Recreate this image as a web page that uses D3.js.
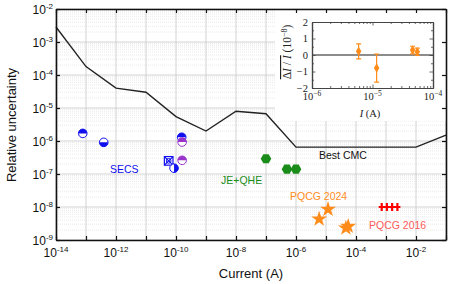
<!DOCTYPE html>
<html>
<head>
<meta charset="utf-8">
<script src="https://cdn.jsdelivr.net/npm/d3@7"></script>
<style>
body { margin: 0; background: #fff; }
svg { display: block; font-family: "Liberation Sans", Arial, sans-serif; }
</style>
</head>
<body>
<svg id="mainsvg" width="463" height="284"></svg>
<script>
// Best CMC line
const cmcCurrent = [1e-14, 1e-13, 1e-12, 1e-11, 1e-10, 1e-9, 1e-8, 1e-7, 1e-6, 1e-2, 1e-1];
const cmcUnc = [2.85e-3, 1.8e-4, 4e-5, 3e-5, 5.5e-6, 2e-6, 8e-6, 6.7e-6, 6.5e-7, 6.5e-7, 1.5e-6];
// SECS
const secsCurrent = [7.8e-14, 3.9e-13, 1.55e-10, 1.6e-10, 5.7e-11, 8.6e-11, 1.6e-10];
const secsUnc = [1.7e-6, 9.1e-7, 1.3e-6, 9.3e-7, 2.5e-7, 1.5e-7, 2.6e-7];
const secsColor = ["#1010ee", "#1010ee", "#1010ee", "#9933cc", "#1010ee", "#1010ee", "#9933cc"];
const secsKind = ["top", "bottom", "top", "top", "cross", "right", "top"];
// JE+QHE
const jeCurrent = [1e-7, 5e-7, 1e-6];
const jeUnc = [2.9e-7, 1.4e-7, 1.4e-7];
// PQCG 2024
const pq24Current = [5.9e-6, 1.17e-5, 4.6e-5, 5.5e-5];
const pq24Unc = [4.3e-9, 8.5e-9, 2.3e-9, 2.6e-9];
const pq24Dev = [0.22, -0.79, 0.3, 0.2];   // inset, 1e-8
const pq24Err = [0.45, 0.85, 0.23, 0.22];
// PQCG 2016
const pq16Current = [7.2e-4, 1.07e-3, 1.6e-3, 2.4e-3];
const pq16Unc = [1e-8, 1e-8, 1e-8, 1e-8];

const xDecades = d3.range(-14, 0).map(e => Math.pow(10, e));
const xLabelExp = [-14, -12, -10, -8, -6, -4, -2];
const yLabelExp = [-9, -8, -7, -6, -5, -4, -3, -2];
const insetYTicks = [-2, -1, 0, 1, 2];
const insetXExp = [-6, -5, -4];

const svg = d3.select('#mainsvg');
const margin = { top: 9, right: 17, bottom: 44, left: 56 };
const width = +svg.attr("width"), height = +svg.attr("height");
const innerWidth = width - margin.left - margin.right;
const innerHeight = height - margin.top - margin.bottom;

const x = d3.scaleLog().domain([1e-14, 1e-1]).range([0, innerWidth]);
const y = d3.scaleLog().domain([1e-9, 1e-2]).range([innerHeight, 0]);

const g = svg.append("g").attr("transform", `translate(${margin.left},${margin.top})`);

// grid: minor horizontal dotted, major solid
const minorY = [];
for (let e = -9; e < -2; e++) for (let k = 2; k < 10; k++) minorY.push(k * Math.pow(10, e));
g.append("g").selectAll("line").data(minorY).join("line")
  .attr("x1", 0).attr("x2", innerWidth)
  .attr("y1", d => y(d)).attr("y2", d => y(d))
  .attr("stroke", "#dcdcdc").attr("stroke-width", 0.6).attr("stroke-dasharray", "1,1");
g.append("g").selectAll("line").data(yLabelExp.map(e => Math.pow(10, e))).join("line")
  .attr("x1", 0).attr("x2", innerWidth)
  .attr("y1", d => y(d)).attr("y2", d => y(d))
  .attr("stroke", "#c8c8c8").attr("stroke-width", 0.8);
g.append("g").selectAll("line").data(xDecades).join("line")
  .attr("y1", 0).attr("y2", innerHeight)
  .attr("x1", d => x(d)).attr("x2", d => x(d))
  .attr("stroke", "#c8c8c8").attr("stroke-width", 0.8);

// white box behind the inset
g.append("rect").attr("x", 275 - margin.left).attr("y", 0)
  .attr("width", innerWidth - (275 - margin.left)).attr("height", 121 - margin.top)
  .attr("fill", "#fff");

// Best CMC
const line = d3.line().x(d => x(d[0])).y(d => y(d[1]));
g.append("path").datum(cmcCurrent.map((c, i) => [c, cmcUnc[i]]))
  .attr("d", line).attr("fill", "none").attr("stroke", "#222").attr("stroke-width", 1.4);

// axes
g.append("g").attr("transform", `translate(0,${innerHeight})`)
  .call(d3.axisBottom(x).tickValues(xDecades).tickSize(-4).tickSizeOuter(0).tickFormat(""));
g.append("g").call(d3.axisTop(x).tickValues(xDecades).tickSize(-4).tickSizeOuter(0).tickFormat(""));
g.append("g").call(d3.axisLeft(y).tickValues(yLabelExp.map(e => Math.pow(10, e))).tickSize(-4).tickSizeOuter(0).tickFormat(""));
g.append("g").attr("transform", `translate(${innerWidth},0)`)
  .call(d3.axisRight(y).tickValues(yLabelExp.map(e => Math.pow(10, e))).tickSize(-4).tickSizeOuter(0).tickFormat(""));
g.selectAll(".domain").attr("stroke", "#111").attr("stroke-width", 1.6);
g.selectAll(".tick line").attr("stroke", "#111").attr("stroke-width", 1.2);

// tick labels
xLabelExp.forEach(e => {
  const t = g.append("text").attr("x", x(Math.pow(10, e))).attr("y", innerHeight + 17)
    .attr("text-anchor", "middle").attr("font-size", 12).attr("fill", "#111");
  t.append("tspan").text("10");
  t.append("tspan").attr("dy", -5).attr("font-size", 8).text(e);
});
yLabelExp.forEach(e => {
  const t = g.append("text").attr("x", -3).attr("y", y(Math.pow(10, e)) + 5)
    .attr("text-anchor", "end").attr("font-size", 12).attr("fill", "#111");
  t.append("tspan").text("10");
  t.append("tspan").attr("dy", -5).attr("font-size", 8).text(e);
});

svg.append("text").attr("transform", "translate(16,125) rotate(-90)")
  .attr("text-anchor", "middle").attr("font-size", 13).attr("fill", "#111").text("Relative uncertainty");
svg.append("text").attr("x", 251).attr("y", 278)
  .attr("text-anchor", "middle").attr("font-size", 13).attr("fill", "#111").text("Current (A)");

// SECS markers
const r = 4.3;
const halfPath = {
  top: `M${-r},0A${r},${r} 0 0 1 ${r},0Z`,
  bottom: `M${-r},0A${r},${r} 0 0 0 ${r},0Z`,
  right: `M0,${-r}A${r},${r} 0 0 1 0,${r}Z`,
  left: `M0,${-r}A${r},${r} 0 0 0 0,${r}Z`
};
secsCurrent.forEach((c, i) => {
  const m = g.append("g").attr("transform", `translate(${x(c)},${y(secsUnc[i])})`);
  const col = secsColor[i];
  if (secsKind[i] === "cross") {
    m.append("rect").attr("x", -r).attr("y", -r).attr("width", 2 * r).attr("height", 2 * r)
      .attr("fill", "#fff").attr("stroke", col).attr("stroke-width", 1.2);
    m.append("path").attr("d", `M${-r},${-r}L${r},${r}M${r},${-r}L${-r},${r}`)
      .attr("stroke", col).attr("stroke-width", 1.2);
    m.append("circle").attr("r", r * 0.55).attr("fill", "none").attr("stroke", col).attr("stroke-width", 1);
  } else {
    m.append("circle").attr("r", r).attr("fill", "#fff").attr("stroke", col).attr("stroke-width", 1);
    m.append("path").attr("d", halfPath[secsKind[i]]).attr("fill", col);
  }
});

// JE+QHE hexagons
const hex = d3.range(6).map(k => {
  const a = Math.PI / 6 + k * Math.PI / 3;
  return [5.3 * Math.cos(a), 5.3 * Math.sin(a)];
});
g.selectAll(".hex").data(jeCurrent).join("path")
  .attr("d", "M" + hex.join("L") + "Z")
  .attr("transform", (d, i) => `translate(${x(d)},${y(jeUnc[i])}) rotate(30)`)
  .attr("fill", "#1a8c1a");

// PQCG 2024 stars
const star = d3.symbol(d3.symbolStar, 78)();
g.selectAll(".star").data(pq24Current).join("path")
  .attr("d", star)
  .attr("transform", (d, i) => `translate(${x(d)},${y(pq24Unc[i])})`)
  .attr("fill", "#ff8c1a");

// PQCG 2016 pluses
g.selectAll(".plus").data(pq16Current).join("path")
  .attr("d", "M-3,0H3M0,-4V4")
  .attr("transform", (d, i) => `translate(${x(d)},${y(pq16Unc[i])})`)
  .attr("stroke", "#ff0000").attr("stroke-width", 2.2);

// group labels
const labFont = 10.5;
svg.append("text").attr("x", 110).attr("y", 173).attr("font-size", labFont).attr("fill", "#1010ee").text("SECS");
svg.append("text").attr("x", 221).attr("y", 184).attr("font-size", labFont).attr("fill", "#1a8c1a").text("JE+QHE");
svg.append("text").attr("x", 319).attr("y", 159).attr("font-size", labFont).attr("fill", "#111").text("Best CMC");
svg.append("text").attr("x", 290).attr("y", 200).attr("font-size", labFont).attr("fill", "#ff8c1a").text("PQCG 2024");
svg.append("text").attr("x", 369).attr("y", 229).attr("font-size", labFont).attr("fill", "#ff5a5a").text("PQCG 2016");

// ---- inset ----
const ix = d3.scaleLog().domain([1e-6, 1e-4]).range([312, 433]);
const iy = d3.scaleLinear().domain([-2, 2]).range([88, 22]);
const inset = svg.append("g");

inset.append("line").attr("x1", 312).attr("x2", 433).attr("y1", iy(0)).attr("y2", iy(0))
  .attr("stroke", "#666").attr("stroke-width", 1.4);

const iMinorX = [];
for (let e = -6; e < -4; e++) for (let k = 2; k < 10; k++) iMinorX.push(k * Math.pow(10, e));
const iMajorX = insetXExp.map(e => Math.pow(10, e));
inset.append("g").attr("transform", "translate(0,88)")
  .call(d3.axisBottom(ix).tickValues(iMajorX).tickSize(-3.5).tickSizeOuter(0).tickFormat(""));
inset.append("g").attr("transform", "translate(0,88)")
  .call(d3.axisBottom(ix).tickValues(iMinorX).tickSize(-2).tickSizeOuter(0).tickFormat(""));
inset.append("g").attr("transform", "translate(0,22)")
  .call(d3.axisTop(ix).tickValues(iMajorX).tickSize(-3.5).tickSizeOuter(0).tickFormat(""));
inset.append("g").attr("transform", "translate(0,22)")
  .call(d3.axisTop(ix).tickValues(iMinorX).tickSize(-2).tickSizeOuter(0).tickFormat(""));
const iMinorY = d3.range(-1.5, 2, 1);
inset.append("g").attr("transform", "translate(312,0)")
  .call(d3.axisLeft(iy).tickValues(insetYTicks).tickSize(-3.5).tickSizeOuter(0).tickFormat(""));
inset.append("g").attr("transform", "translate(312,0)")
  .call(d3.axisLeft(iy).tickValues(iMinorY).tickSize(-2).tickSizeOuter(0).tickFormat(""));
inset.append("g").attr("transform", "translate(433,0)")
  .call(d3.axisRight(iy).tickValues(insetYTicks).tickSize(-3.5).tickSizeOuter(0).tickFormat(""));
inset.append("g").attr("transform", "translate(433,0)")
  .call(d3.axisRight(iy).tickValues(iMinorY).tickSize(-2).tickSizeOuter(0).tickFormat(""));
inset.selectAll(".domain").attr("stroke", "#444").attr("stroke-width", 1.2);
inset.selectAll(".tick line").attr("stroke", "#444").attr("stroke-width", 0.8);

const serif = '"Liberation Serif", "DejaVu Serif", serif';
insetYTicks.forEach(v => {
  inset.append("text").attr("x", 308).attr("y", iy(v) + 3.5).attr("text-anchor", "end")
    .attr("font-family", serif).attr("font-size", 10.5).attr("fill", "#222")
    .text(v < 0 ? "\u2212" + Math.abs(v) : v);
});
insetXExp.forEach(e => {
  const t = inset.append("text").attr("x", ix(Math.pow(10, e))).attr("y", 100)
    .attr("text-anchor", "middle").attr("font-family", serif).attr("font-size", 10.5).attr("fill", "#222");
  t.append("tspan").text("10");
  t.append("tspan").attr("dy", -4).attr("font-size", 7.5).text("\u2212" + Math.abs(e));
});
const ixl = inset.append("text").attr("x", 370).attr("y", 117).attr("text-anchor", "middle")
  .attr("font-family", serif).attr("font-size", 10.5).attr("fill", "#222");
ixl.append("tspan").attr("font-style", "italic").text("I");
ixl.append("tspan").text(" (A)");

const iyl = inset.append("text").attr("transform", "translate(291,52) rotate(-90)")
  .attr("text-anchor", "middle").attr("font-family", serif).attr("font-size", 11.5).attr("fill", "#222");
const ov = iyl.append("tspan").style("text-decoration", "overline");
ov.append("tspan").text("\u0394");
ov.append("tspan").attr("font-style", "italic").text("I");
ov.append("tspan").text(" / ");
ov.append("tspan").attr("font-style", "italic").text("I");
iyl.append("tspan").text("  (10");
iyl.append("tspan").attr("dy", -4.5).attr("font-size", 8).text("\u22128");
iyl.append("tspan").attr("dy", 4.5).text(")");

// inset points with error bars
pq24Current.forEach((c, i) => {
  const cx = ix(c);
  const lo = iy(pq24Dev[i] - pq24Err[i]), hi = iy(pq24Dev[i] + pq24Err[i]);
  inset.append("path")
    .attr("d", `M${cx},${lo}V${hi}M${cx - 2.5},${lo}H${cx + 2.5}M${cx - 2.5},${hi}H${cx + 2.5}`)
    .attr("stroke", "#ff8c1a").attr("stroke-width", 1.2).attr("fill", "none");
  inset.append("path").attr("d", d3.symbol(d3.symbolDiamond, 26)())
    .attr("transform", `translate(${cx},${iy(pq24Dev[i])})`).attr("fill", "#ff8c1a");
});
</script>
</body>
</html>
